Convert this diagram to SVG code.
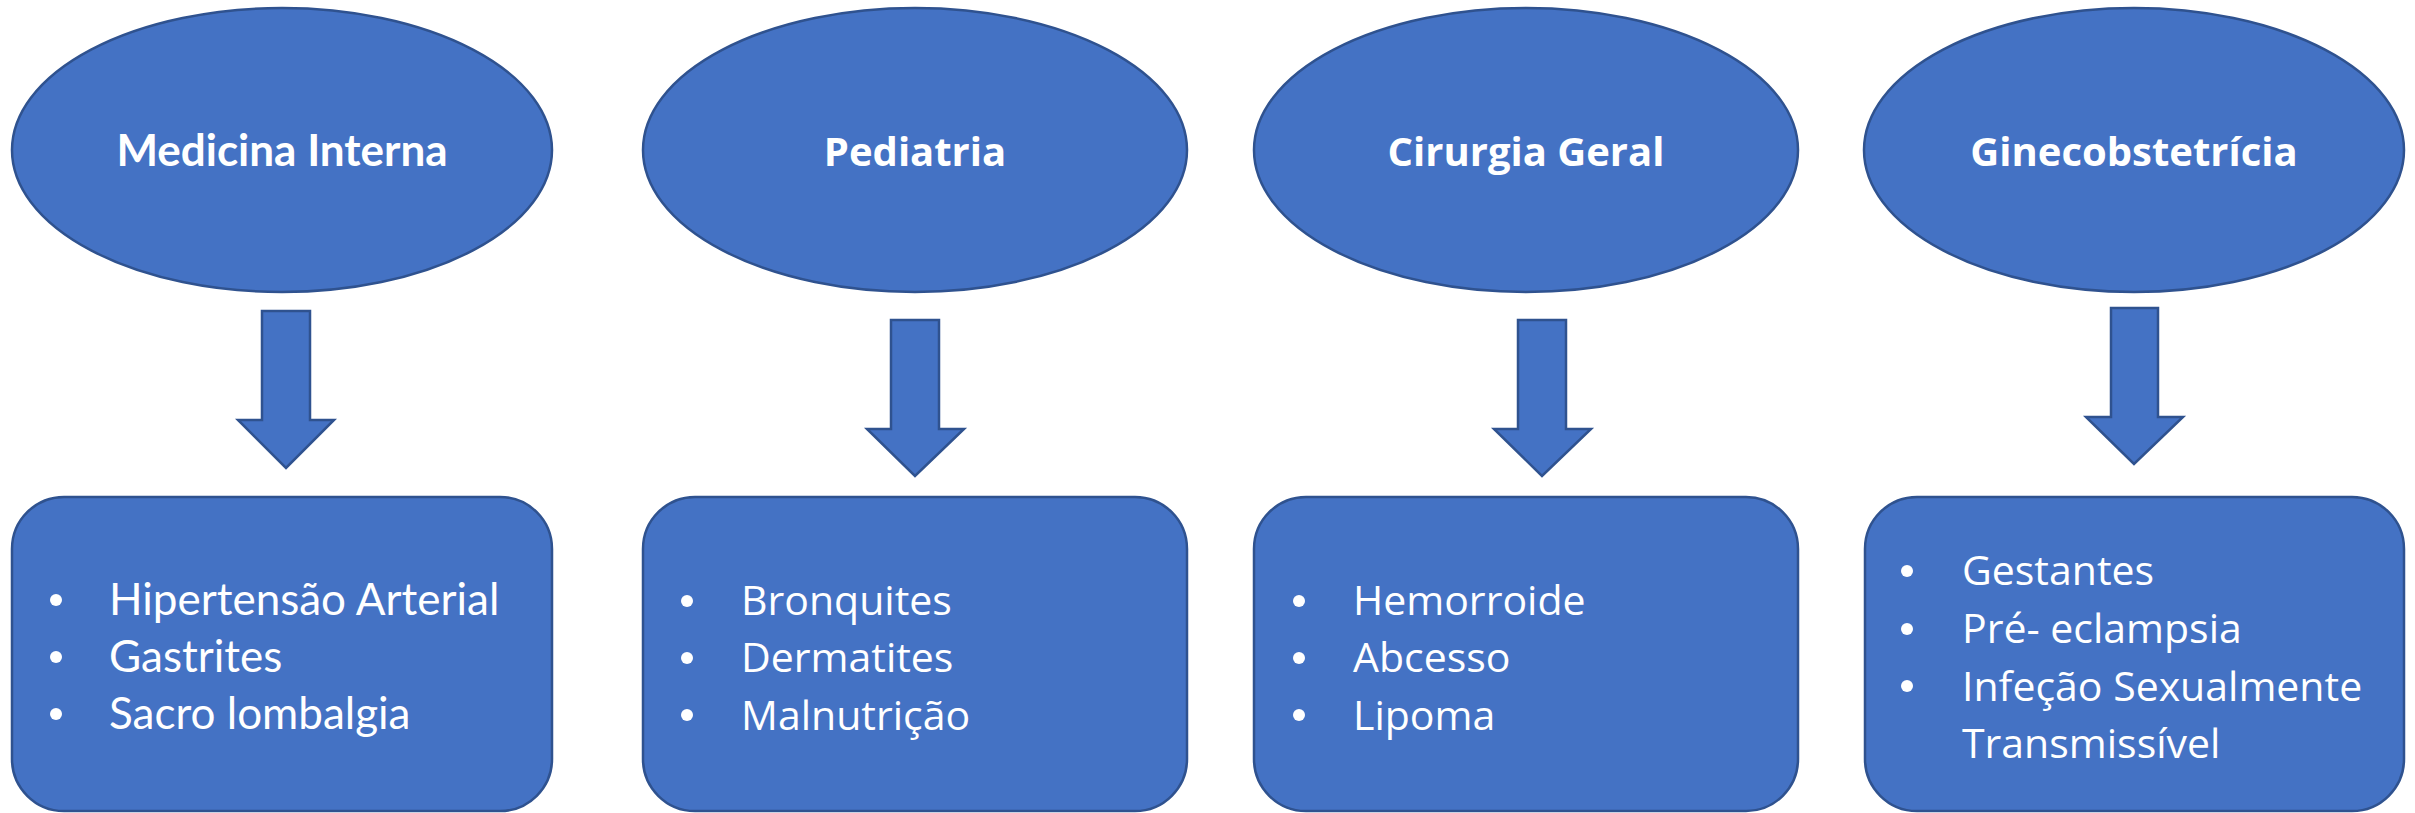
<svg xmlns="http://www.w3.org/2000/svg" width="2415" height="813" viewBox="0 0 2415 813">
<style>
.shape{fill:#4472C4;stroke:#2F528F;stroke-width:2.5}
.hc{font-family:Lato,"Liberation Sans",sans-serif;font-weight:bold;font-size:44px;fill:#fff;text-anchor:middle}
.hs{font-family:"Open Sans","Noto Sans","Liberation Sans",sans-serif;font-weight:bold;font-size:40px;fill:#fff;text-anchor:middle}
.bc{font-family:Lato,"Liberation Sans",sans-serif;font-size:44px;fill:#fff}
.bs{font-family:"Open Sans","Noto Sans","Liberation Sans",sans-serif;font-size:41px;fill:#fff}
.dot{fill:#fff}
</style>
<rect width="2415" height="813" fill="#fff"/>
<g id="medicina-interna">
<ellipse class="shape" cx="282" cy="150" rx="270" ry="142"/>
<text class="hc" x="282" y="166">Medicina Interna</text>
</g>
<g id="pediatria">
<ellipse class="shape" cx="915" cy="150" rx="272" ry="142"/>
<text class="hs" x="915" y="166">Pediatria</text>
</g>
<g id="cirurgia-geral">
<ellipse class="shape" cx="1526" cy="150" rx="272" ry="142"/>
<text class="hs" x="1526" y="166">Cirurgia Geral</text>
</g>
<g id="ginecobstetricia">
<ellipse class="shape" cx="2134" cy="150" rx="270" ry="142"/>
<text class="hs" x="2134" y="166">Ginecobstetrícia</text>
</g>
<g id="connectors">
<polygon class="shape" points="262,311 310,311 310,420 334,420 286,468 238,420 262,420"/>
<polygon class="shape" points="891,320 939,320 939,429 964,429 915,476 867,429 891,429"/>
<polygon class="shape" points="1518,320 1566,320 1566,429 1591,429 1542,476 1494,429 1518,429"/>
<polygon class="shape" points="2111,308 2158,308 2158,417 2183,417 2134,464 2086,417 2111,417"/>
</g>
<g id="box-medicina-interna">
<rect class="shape" x="12" y="497" width="540" height="314" rx="52" ry="52"/>
<circle class="dot" cx="56" cy="600" r="6"/>
<circle class="dot" cx="56" cy="657" r="6"/>
<circle class="dot" cx="56" cy="714" r="6"/>
<text class="bc" x="109" y="615">Hipertensão Arterial</text>
<text class="bc" x="109" y="672">Gastrites</text>
<text class="bc" x="109" y="729">Sacro lombalgia</text>
</g>
<g id="box-pediatria">
<rect class="shape" x="643" y="497" width="544" height="314" rx="52" ry="52"/>
<circle class="dot" cx="687" cy="601" r="6"/>
<circle class="dot" cx="687" cy="658" r="6"/>
<circle class="dot" cx="687" cy="715" r="6"/>
<text class="bs" x="741" y="615">Bronquites</text>
<text class="bs" x="741" y="672">Dermatites</text>
<text class="bs" x="741" y="730">Malnutrição</text>
</g>
<g id="box-cirurgia-geral">
<rect class="shape" x="1254" y="497" width="544" height="314" rx="52" ry="52"/>
<circle class="dot" cx="1299" cy="601" r="6"/>
<circle class="dot" cx="1299" cy="658" r="6"/>
<circle class="dot" cx="1299" cy="715" r="6"/>
<text class="bs" x="1353" y="615">Hemorroide</text>
<text class="bs" x="1353" y="672">Abcesso</text>
<text class="bs" x="1353" y="730">Lipoma</text>
</g>
<g id="box-ginecobstetricia">
<rect class="shape" x="1865" y="497" width="539" height="314" rx="52" ry="52"/>
<circle class="dot" cx="1907" cy="571" r="6"/>
<circle class="dot" cx="1907" cy="629" r="6"/>
<circle class="dot" cx="1907" cy="686" r="6"/>
<text class="bs" x="1962" y="585">Gestantes</text>
<text class="bs" x="1962" y="643">Pré- eclampsia</text>
<text class="bs" x="1962" y="701">Infeção Sexualmente</text>
<text class="bs" x="1962" y="758">Transmissível</text>
</g>
</svg>
